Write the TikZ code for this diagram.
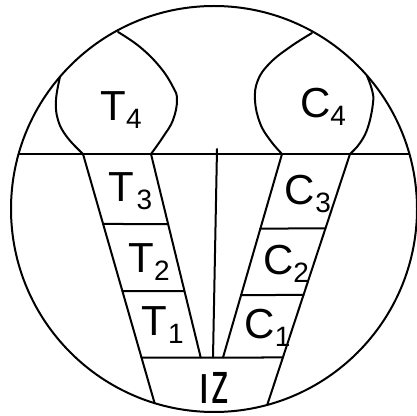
\documentclass[tikz,border=0pt]{standalone}
\usepackage{fontspec}
\setmainfont{Liberation Sans}
\newcommand{\mylab}[3][0pt]{{\fontsize{42}{42}\selectfont #2}\kern#1\raisebox{-8pt}{\fontsize{28}{28}\selectfont #3}}
\begin{document}
\begin{tikzpicture}[x=1pt,y=1pt,line width=2pt,line join=round,line cap=round,
  lab/.style={inner sep=0pt,anchor=center}]
\useasboundingbox (0,0) rectangle (417,415);
\coordinate (O) at (214,206);
% strip end points
\coordinate (Ta) at (83,261);   \coordinate (Tz) at (158,0);
\coordinate (Tb) at (151,261);  \coordinate (Tc) at (200.7,57.5);
\coordinate (Ca) at (350,261);  \coordinate (Cz) at (263.9,0);
\coordinate (Cb) at (282,261);  \coordinate (Cc) at (223,57.5);
\coordinate (Va) at (217,266);  \coordinate (Vb) at (213,57.5);
\begin{scope}
  \clip (O) circle[radius=203];
  \draw (0,261) -- (417,261);
  \draw (Ta) -- (Tz);
  \draw (Ca) -- (Cz);
\end{scope}
\draw (Tb) -- (Tc);
\draw (Cb) -- (Cc);
\draw (Va) -- (Vb);
% cross lines
\draw (intersection of Ta--Tz and 0,191--1,191) -- (intersection of Tb--Tc and 0,191--1,191);
\draw (intersection of Ta--Tz and 0,124--1,124) -- (intersection of Tb--Tc and 0,124--1,124);
\draw (intersection of Ca--Cz and 0,186.5--1,186.5) -- (intersection of Cb--Cc and 0,186.5--1,186.5);
\draw (intersection of Ca--Cz and 0,120--1,120) -- (intersection of Cb--Cc and 0,120--1,120);
\draw (intersection of Ta--Tz and 0,57.5--1,57.5) -- (intersection of Ca--Cz and 0,57.5--1,57.5);
% bulbs
\draw plot[smooth,tension=0.7] coordinates {(60,338) (56,315) (58,295) (67,278) (83,261)};
\draw plot[smooth,tension=0.7] coordinates {(118,383) (140,368) (160,348) (173,328) (177,315) (173,295) (163,278) (151,261)};
\draw plot[smooth,tension=0.7] coordinates {(312,382) (290,368) (270,352) (258,335) (255,315) (260,292) (270,275) (282,261)};
\draw plot[smooth,tension=0.7] coordinates {(367,339) (372,325) (373,312) (368,288) (360,272) (350,261)};
% circle
\draw (O) circle[radius=203];
% labels
\node[lab] (t4) at (121,305) {\mylab{T}{4}};
\node[lab] (c4) at (323,308) {\mylab{C}{4}};
\node[lab] (t3) at (130.5,223.5) {\mylab[2pt]{T}{3}};
\node[lab] (c3) at (307.5,221) {\mylab[1pt]{C}{3}};
\node[lab] (t2) at (149,153) {\mylab{T}{2}};
\node[lab] (c2) at (286,151) {\mylab{C}{2}};
\node[lab] (t1) at (162.5,89.5) {\mylab[1pt]{T}{1}};
\node[lab] (c1) at (267.5,87.5) {\mylab{C}{1}};
\node[lab] (iz) at (214,27.5) {\fontsize{42}{42}\selectfont I\kern1pt\scalebox{0.85}[1.4]{z}};
\end{tikzpicture}
\end{document}
